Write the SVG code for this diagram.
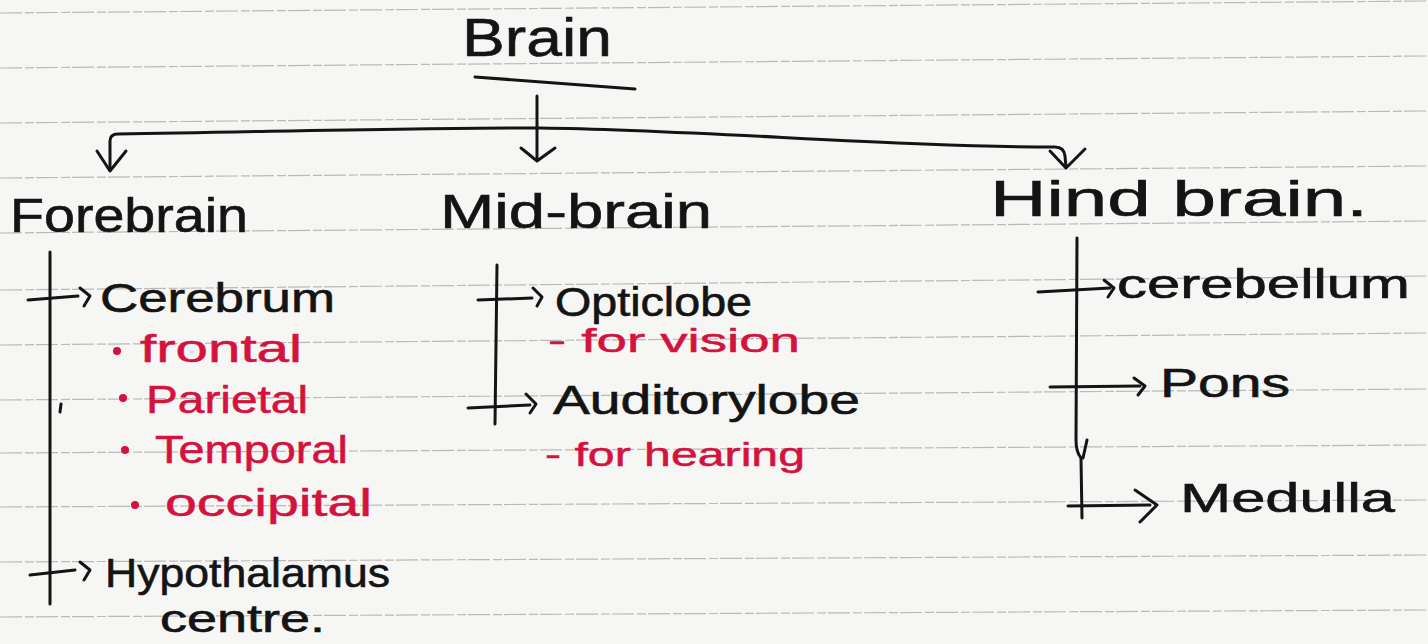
<svg xmlns="http://www.w3.org/2000/svg" width="1428" height="644" viewBox="0 0 1428 644">
<defs>
<style>
.paper{fill:#f6f6f4}
.rule{stroke:#8e8684;stroke-width:1.2;stroke-dasharray:22 3 9 2;opacity:0.55;fill:none}
.ink{stroke:#141414;stroke-width:3;fill:none;stroke-linecap:round;stroke-linejoin:round}
.t{font-family:"Liberation Sans","DejaVu Sans",sans-serif;fill:#141414;stroke:#141414;stroke-width:0.6}
.r{font-family:"Liberation Sans","DejaVu Sans",sans-serif;fill:#d3123e;stroke:#d3123e;stroke-width:0.5}
.dot{fill:#d3123e}
</style>
</defs>
<rect class="paper" x="0" y="0" width="1428" height="644"/>
<g id="ruling">
<line class="rule" x1="0" y1="13" x2="1428" y2="1"/>
<line class="rule" x1="0" y1="68" x2="1428" y2="56"/>
<line class="rule" x1="0" y1="123" x2="1428" y2="111"/>
<line class="rule" x1="0" y1="178" x2="1428" y2="166"/>
<line class="rule" x1="0" y1="233" x2="1428" y2="221"/>
<line class="rule" x1="0" y1="290" x2="1428" y2="276"/>
<line class="rule" x1="0" y1="345" x2="1428" y2="333"/>
<line class="rule" x1="0" y1="400" x2="1428" y2="389"/>
<line class="rule" x1="0" y1="453" x2="1428" y2="445"/>
<line class="rule" x1="0" y1="507" x2="1428" y2="500"/>
<line class="rule" x1="0" y1="562" x2="1428" y2="555"/>
<line class="rule" x1="0" y1="617" x2="1428" y2="610"/>
</g>
<g id="connectors">
<path class="ink" d="M475,77 L635,89"/>
<path class="ink" d="M537,96 L537,160"/>
<path class="ink" d="M521,148 L537,161 L555,148"/>
<path class="ink" d="M110,170 L110,141 Q110,134 118,134 C300,131 450,127 540,128 C700,130 900,147 1055,147 Q1064,147 1065,156 L1066,167"/>
<path class="ink" d="M97,151 L110,171 L126,151"/>
<path class="ink" d="M1050,151 L1066,168 L1085,149"/>
<path class="ink" d="M50,252 L50,604"/>
<path class="ink" d="M28,300 L78,296"/>
<path class="ink" d="M80,288 L90,296 L84,306"/>
<path class="ink" d="M30,575 L75,570"/>
<path class="ink" d="M80,562 L90,570 L84,580"/>
<path class="ink" d="M61,404 L60,412"/>
<path class="ink" d="M497,265 L495,424"/>
<path class="ink" d="M478,300 L532,298"/>
<path class="ink" d="M533,288 L542,297 L537,306"/>
<path class="ink" d="M468,408 L530,405"/>
<path class="ink" d="M526,394 L536,404 L530,413"/>
<path class="ink" d="M1077,238 L1076,440 Q1076,452 1081,458 L1082,518"/>
<path class="ink" d="M1087,440 L1083,458"/>
<path class="ink" d="M1038,292 L1110,288"/>
<path class="ink" d="M1104,280 L1114,288 L1108,297"/>
<path class="ink" d="M1050,387 L1140,386"/>
<path class="ink" d="M1134,378 L1145,386 L1138,395"/>
<path class="ink" d="M1068,506 L1150,505"/>
<path class="ink" d="M1135,490 L1157,505 L1140,522"/>
</g>
<g id="brain"><text class="t" x="462" y="56" font-size="54" textLength="150" lengthAdjust="spacingAndGlyphs">Brain</text></g>
<g id="forebrain"><text class="t" x="10" y="232" font-size="48" textLength="238" lengthAdjust="spacingAndGlyphs">Forebrain</text></g>
<g id="midbrain"><text class="t" x="440" y="228" font-size="48" textLength="272" lengthAdjust="spacingAndGlyphs">Mid-brain</text></g>
<g id="hindbrain"><text class="t" x="990" y="216" font-size="50" textLength="378" lengthAdjust="spacingAndGlyphs">Hind brain.</text></g>
<g id="cerebrum"><text class="t" x="100" y="312" font-size="40" textLength="235" lengthAdjust="spacingAndGlyphs">Cerebrum</text></g>
<g id="frontal"><circle class="dot" cx="117" cy="351" r="4"/><text class="r" x="140" y="362" font-size="38" textLength="162" lengthAdjust="spacingAndGlyphs">frontal</text></g>
<g id="parietal"><circle class="dot" cx="123" cy="398" r="4"/><text class="r" x="146" y="413" font-size="38" textLength="162" lengthAdjust="spacingAndGlyphs">Parietal</text></g>
<g id="temporal"><circle class="dot" cx="125" cy="450" r="4"/><text class="r" x="155" y="463" font-size="38" textLength="193" lengthAdjust="spacingAndGlyphs">Temporal</text></g>
<g id="occipital"><circle class="dot" cx="135" cy="505" r="4"/><text class="r" x="165" y="516" font-size="38" textLength="207" lengthAdjust="spacingAndGlyphs">occipital</text></g>
<g id="hypothalamus"><text class="t" x="105" y="587" font-size="40" textLength="285" lengthAdjust="spacingAndGlyphs">Hypothalamus</text><text class="t" x="160" y="632" font-size="38" textLength="165" lengthAdjust="spacingAndGlyphs">centre.</text></g>
<g id="opticlobe"><text class="t" x="555" y="316" font-size="40" textLength="197" lengthAdjust="spacingAndGlyphs">Opticlobe</text></g>
<g id="forvision"><text class="r" x="548" y="352" font-size="34" textLength="252" lengthAdjust="spacingAndGlyphs">- for vision</text></g>
<g id="auditorylobe"><text class="t" x="553" y="414" font-size="40" textLength="307" lengthAdjust="spacingAndGlyphs">Auditorylobe</text></g>
<g id="forhearing"><text class="r" x="545" y="466" font-size="34" textLength="260" lengthAdjust="spacingAndGlyphs">- for hearing</text></g>
<g id="cerebellum"><text class="t" x="1117" y="298" font-size="40" textLength="293" lengthAdjust="spacingAndGlyphs">cerebellum</text></g>
<g id="pons"><text class="t" x="1160" y="397" font-size="40" textLength="130" lengthAdjust="spacingAndGlyphs">Pons</text></g>
<g id="medulla"><text class="t" x="1180" y="512" font-size="40" textLength="215" lengthAdjust="spacingAndGlyphs">Medulla</text></g>
</svg>
